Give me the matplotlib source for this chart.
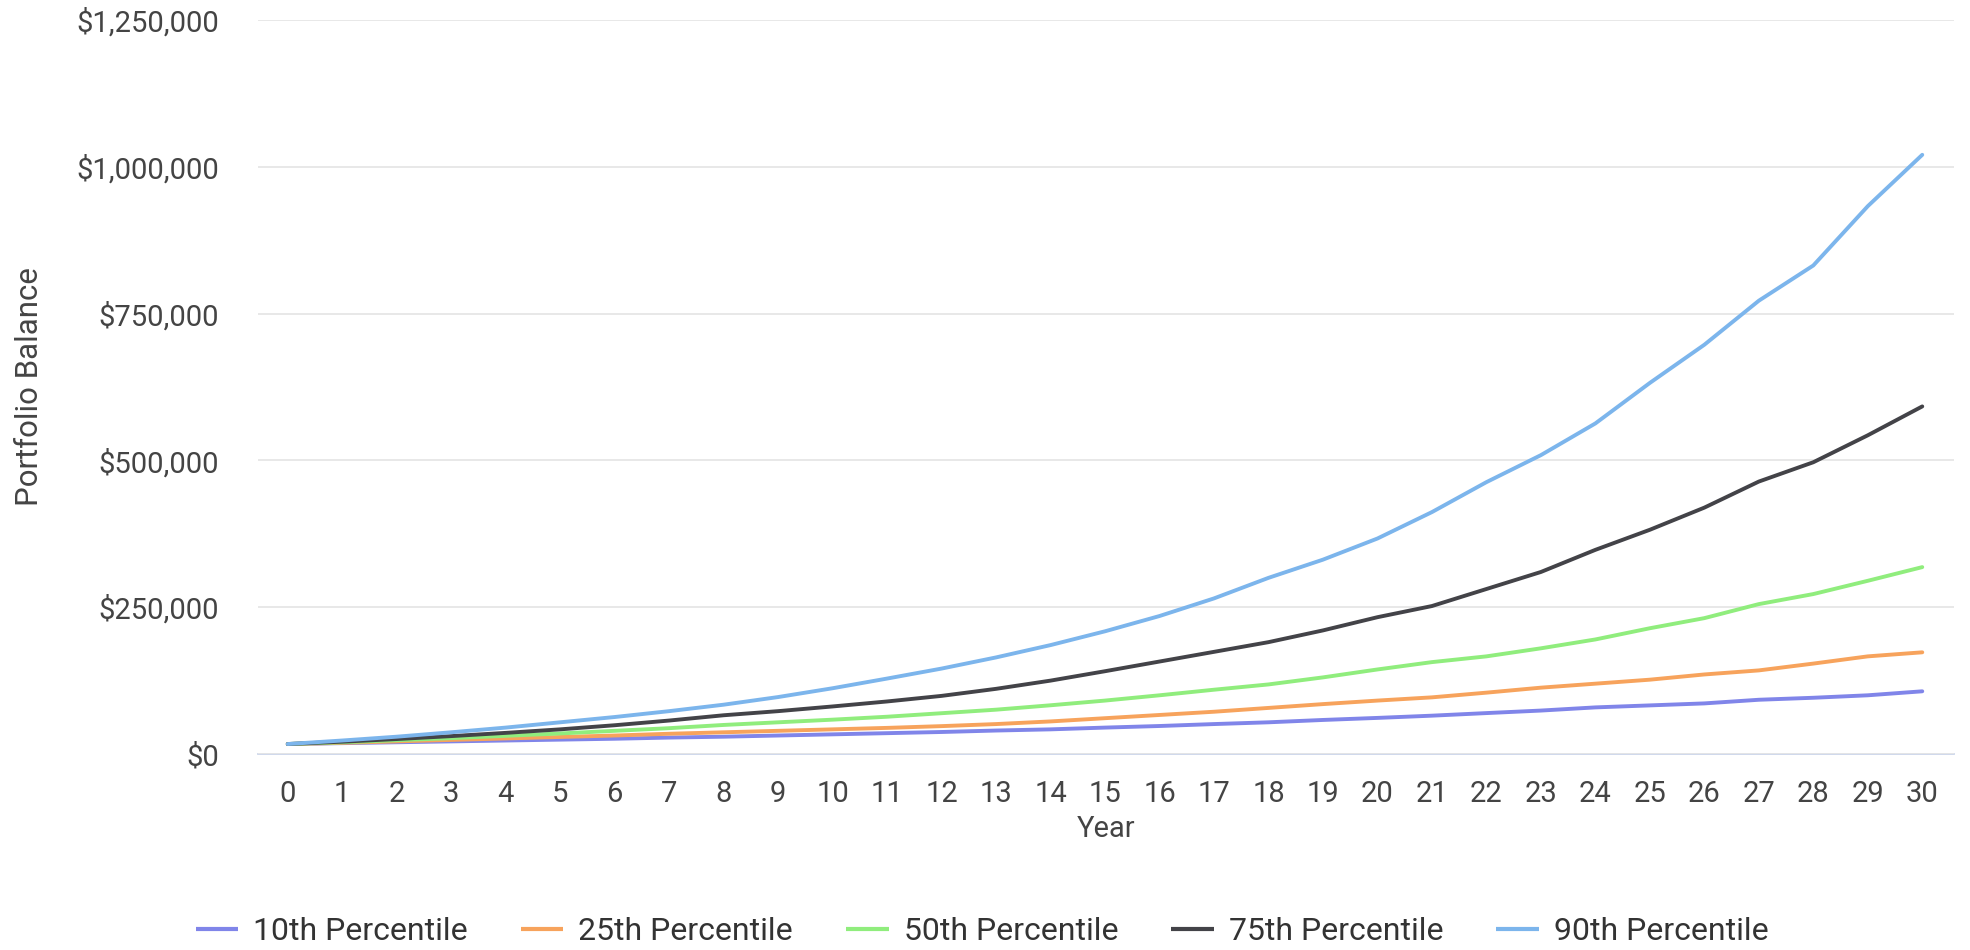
import matplotlib
matplotlib.use("Agg")
import matplotlib.pyplot as plt
from matplotlib.ticker import FuncFormatter, FixedLocator

plt.rcParams['font.family'] = ['Roboto', 'DejaVu Sans']

years = list(range(0, 31))
series_names = ["10th Percentile", "25th Percentile", "50th Percentile", "75th Percentile", "90th Percentile"]
series_colors = ["#8085e9", "#f7a35c", "#90ed7d", "#434348", "#7cb5ec"]

p10 = [17000, 18500, 20000, 21500, 23000, 24500, 26000, 28000, 29500, 31500, 33500,
       35500, 37500, 40000, 42000, 45000, 47700, 51000, 54000, 58000, 61500,
       65300, 69700, 74000, 79400, 82800, 86200, 92400, 95800, 100000, 106800]
p25 = [17000, 19000, 21500, 24000, 26500, 29000, 31500, 34500, 37000, 39500, 42000,
       44500, 47500, 51000, 55500, 61000, 66500, 72000, 78500, 85000, 91000,
       96500, 104500, 113000, 119800, 126600, 135500, 142400, 154000, 166300, 173200]
p50 = [17000, 20000, 23500, 27000, 31000, 35000, 39500, 44000, 49500, 54000, 58500,
       63500, 69500, 75500, 83000, 91000, 100000, 109500, 118500, 130500, 144000,
       156500, 166300, 180000, 195100, 214200, 231400, 255300, 272400, 295000, 318300]
p75 = [17000, 21000, 25500, 30500, 36000, 42000, 49000, 57000, 66000, 73000, 81000,
       89500, 99000, 111000, 125000, 141000, 157500, 174000, 190500, 210500, 233000,
       252000, 281000, 310000, 347700, 381900, 419600, 464000, 496900, 542800, 592000]
p90 = [17000, 23000, 29500, 37000, 45000, 54000, 63000, 73000, 84000, 97000, 112000,
       128500, 145500, 164500, 185500, 209000, 235000, 265000, 300000, 331000, 367000,
       412000, 463000, 509000, 563000, 632000, 697000, 772000, 832000, 933000, 1020500]

y_ticks = [0, 250000, 500000, 750000, 1000000, 1250000]

fig = plt.figure(figsize=(19.7, 9.5), dpi=100)
ax = fig.add_axes([0.1308, 0.2063, 0.8609, 0.7726])

for name, color, vals in zip(series_names, series_colors, [p10, p25, p50, p75, p90]):
    ax.plot(years, vals, color=color, lw=2.8, solid_capstyle='round',
            solid_joinstyle='round', label=name)

ax.set_xlim(-0.552, 30.576)
ax.set_ylim(0, 1250000)
ax.yaxis.set_major_locator(FixedLocator(y_ticks))
ax.xaxis.set_major_locator(FixedLocator(years))
ax.yaxis.set_major_formatter(FuncFormatter(lambda v, p: "${:,.0f}".format(v)))

ax.grid(axis='y', color='#e6e6e6', lw=1.3)
ax.set_axisbelow(True)
for s in ['top', 'right', 'left']:
    ax.spines[s].set_visible(False)
ax.spines['bottom'].set_color('#ccd6eb')
ax.spines['bottom'].set_linewidth(1.3)
ax.spines['bottom'].set_zorder(0.5)

ax.tick_params(axis='y', length=0, pad=28, labelsize=21, labelcolor='#444444')
ax.tick_params(axis='x', length=0, pad=19, labelsize=21, labelcolor='#444444')

ax.set_xlabel("Year", fontsize=21, color='#444444', labelpad=5)
ax.set_ylabel("Portfolio Balance", fontsize=22.5, color='#444444')
ax.yaxis.set_label_coords(0.0222, 0.5935, transform=fig.transFigure)

leg = fig.legend(loc='center', bbox_to_anchor=(0.4985, 0.019), ncol=5, frameon=False,
                 fontsize=23, handlelength=1.33, handletextpad=0.47, columnspacing=1.66,
                 labelcolor='#333333')
for h in leg.legend_handles:
    h.set_linewidth(3.0)
    h.set_solid_capstyle('butt')

fig.savefig("out.png", dpi=100, facecolor='white')
